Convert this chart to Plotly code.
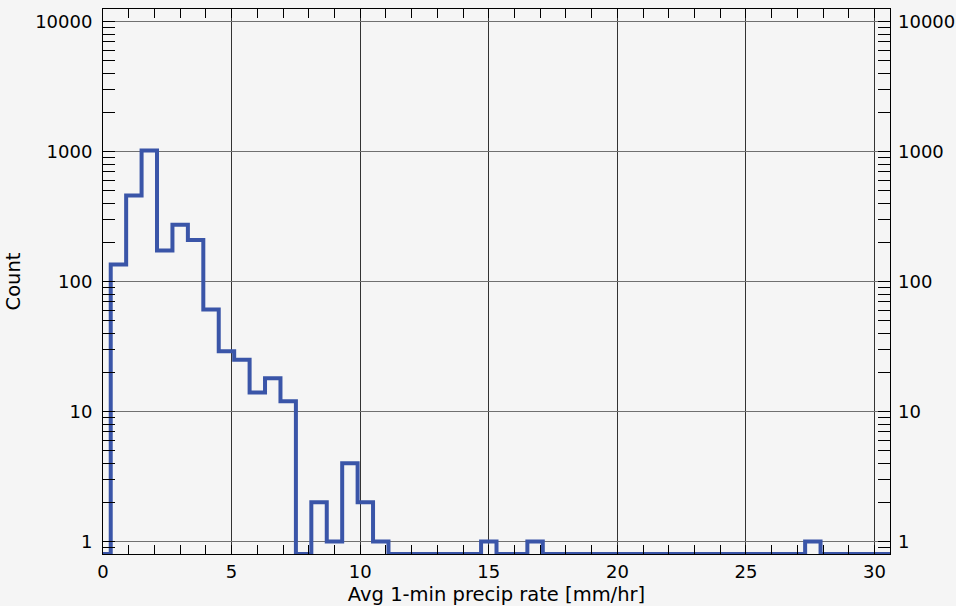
import numpy as np
import plotly.graph_objects as go

# Histogram of average 1-min precip rate, bin centres every 0.6 mm/hr
bin_centers = [round(0.6 * k, 1) for k in range(52)]
counts = [0, 135, 459, 1020, 173, 273, 209, 61, 29, 25, 14, 18, 12, 0, 2, 1, 4, 2, 1,
          0, 0, 0, 0, 0, 0, 1, 0, 0, 1, 0, 0, 0, 0, 0, 0, 0, 0, 0, 0, 0, 0, 0, 0, 0, 0, 0,
          1, 0, 0, 0, 0, 0]

x_tick_vals = [0, 5, 10, 15, 20, 25, 30]
x_tick_text = ["0", "5", "10", "15", "20", "25", "30"]
y_tick_vals = [1, 10, 100, 1000, 10000]
y_tick_text = ["1", "10", "100", "1000", "10000"]

x_range = [0, 30.6]
y_min, y_max = 0.8, 12500
y_range = [np.log10(y_min), np.log10(y_max)]

# zero counts are drawn on the bottom edge of the log axis
y_plot = [c if c > 0 else y_min for c in counts]

FONT = "DejaVu Sans"
BG = "#f5f5f5"
LINE = "#3a55a8"
TICK_SIZE = 18
TITLE_SIZE = 19.5

fig = go.Figure()
fig.add_trace(go.Scatter(x=bin_centers, y=y_plot, mode="lines",
                         line=dict(color=LINE, width=4, shape="hvh"),
                         hoverinfo="skip", showlegend=False))
fig.add_trace(go.Scatter(x=bin_centers, y=y_plot, mode="lines", yaxis="y2",
                         line=dict(color=LINE, width=0), opacity=0,
                         hoverinfo="skip", showlegend=False))

fig.update_layout(
    width=956, height=606,
    margin=dict(l=103, r=66, t=9, b=52),
    paper_bgcolor=BG, plot_bgcolor=BG,
    font=dict(family=FONT, size=TICK_SIZE, color="black"),
    xaxis=dict(range=x_range, tickvals=x_tick_vals, ticktext=x_tick_text, automargin=False,
               showline=True, linecolor="black", linewidth=1, mirror="ticks",
               ticks="inside", ticklen=9, tickcolor="black", ticklabelstandoff=1,
               tickfont=dict(size=TICK_SIZE),
               showgrid=True, gridcolor="#333333", gridwidth=1, zeroline=False,
               minor=dict(dtick=1, ticks="inside", ticklen=9, tickcolor="black", showgrid=False),
               title=dict(text="Avg 1-min precip rate [mm/hr]", standoff=6,
                          font=dict(family=FONT, size=TITLE_SIZE))),
    yaxis=dict(type="log", range=y_range, tickvals=y_tick_vals, ticktext=y_tick_text,
               automargin=False,
               showline=True, linecolor="black", linewidth=1, mirror="ticks",
               ticks="inside", ticklen=12, tickcolor="black", ticklabelstandoff=6,
               tickfont=dict(size=TICK_SIZE),
               showgrid=True, gridcolor="#707070", gridwidth=1, zeroline=False,
               minor=dict(dtick="D1", ticks="inside", ticklen=12, tickcolor="black", showgrid=False),
               title=dict(text="Count", standoff=9, font=dict(family=FONT, size=TITLE_SIZE))),
    yaxis2=dict(type="log", range=y_range, tickvals=y_tick_vals, ticktext=y_tick_text,
                automargin=False, tickfont=dict(size=TICK_SIZE), ticklabelstandoff=7,
                overlaying="y", side="right", showline=False, ticks="",
                showgrid=False, zeroline=False),
)

fig.write_html("out.html",
               config={"displayModeBar": False},
               post_script="document.body.style.margin='0';"
                           "document.body.style.background='#f5f5f5';")
